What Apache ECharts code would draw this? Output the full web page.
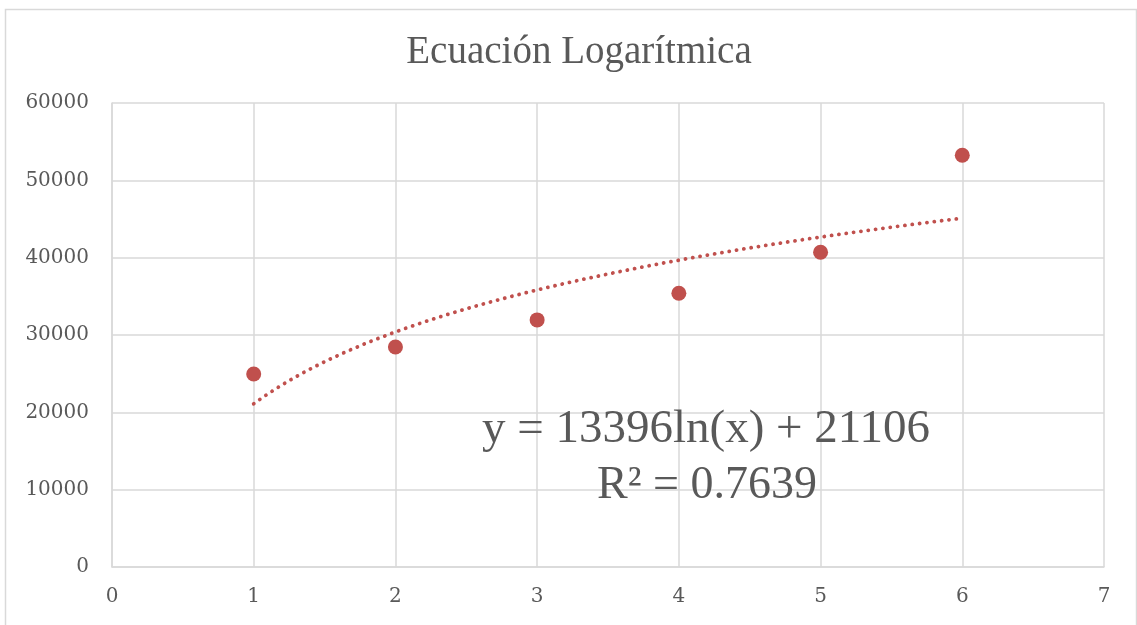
<!DOCTYPE html>
<html>
<head>
<meta charset="utf-8">
<script src="https://cdn.jsdelivr.net/npm/echarts@6/dist/echarts.min.js"></script>
<style>
  html, body { margin: 0; padding: 0; background: #ffffff; }
  #chart { width: 1137px; height: 625px; }
</style>
</head>
<body>
<div id="chart"></div>
<script>
// Observed values
const xValues = [1, 2, 3, 4, 5, 6];
const yValues = [24950, 28450, 31950, 35400, 40700, 53250];

// Logarithmic trendline coefficients: y = a ln(x) + b
const trendA = 13396;
const trendB = 21106;
const rSquared = '0.7639';

const titleText = 'Ecuación Logarítmica';
const equationText = 'y = 13396ln(x) + 21106';
const rSquaredText = 'R² = ' + rSquared;

// Sample the fitted curve across the observed x range
const trendPoints = [];
for (let i = 0; i <= 100; i++) {
  const x = xValues[0] + (xValues[xValues.length - 1] - xValues[0]) * i / 100;
  trendPoints.push([x, trendA * Math.log(x) + trendB]);
}

const tickFont = 'DejaVu Serif';
const textFont = 'Liberation Serif';
const chart = echarts.init(document.getElementById('chart'));

chart.setOption({
  backgroundColor: '#ffffff',
  animation: false,
  title: {
    text: titleText,
    left: 574,
    textAlign: 'center',
    top: 28,
    textStyle: { fontFamily: textFont, fontSize: 39, fontWeight: 'normal', color: '#595959' }
  },
  grid: { left: 112, right: 33, top: 103, bottom: 58 },
  xAxis: {
    type: 'value',
    min: 0, max: 7, interval: 1,
    axisLine: { show: true, lineStyle: { color: '#d9d9d9', width: 1.5 } },
    axisTick: { show: false },
    splitLine: { show: true, lineStyle: { color: '#d9d9d9', width: 1.5 } },
    axisLabel: { fontFamily: tickFont, fontSize: 20, color: '#595959', margin: 20,
                 formatter: v => String(v) }
  },
  yAxis: {
    type: 'value',
    min: 0, max: 60000, interval: 10000,
    axisLine: { show: true, lineStyle: { color: '#d9d9d9', width: 1.5 } },
    axisTick: { show: false },
    splitLine: { show: true, lineStyle: { color: '#d9d9d9', width: 1.5 } },
    axisLabel: { fontFamily: tickFont, fontSize: 20, color: '#595959', margin: 23,
                 formatter: v => String(v) }
  },
  series: [
    {
      type: 'line',
      data: trendPoints,
      showSymbol: false,
      symbol: 'none',
      smooth: false,
      lineStyle: { color: '#c0504d', width: 3.8, type: [0.1, 7.3], cap: 'round' },
      z: 2
    },
    {
      type: 'scatter',
      data: xValues.map((x, i) => [x, yValues[i]]),
      symbol: 'circle',
      symbolSize: 15,
      itemStyle: { color: '#c0504d', opacity: 1 },
      z: 3
    }
  ],
  graphic: [
    {
      type: 'rect',
      left: 3, top: 7,
      shape: { width: 1131, height: 640 },
      style: { fill: 'none', stroke: '#d9d9d9', lineWidth: 1.5 },
      silent: true
    },
    {
      type: 'text',
      x: 706, y: 430,
      style: {
        text: equationText,
        fontFamily: textFont, fontSize: 47,
        fill: '#595959', align: 'center', verticalAlign: 'middle'
      },
      z: 10
    },
    {
      type: 'text',
      x: 707, y: 486,
      style: {
        text: rSquaredText,
        fontFamily: textFont, fontSize: 46,
        fill: '#595959', align: 'center', verticalAlign: 'middle'
      },
      z: 10
    }
  ]
});
</script>
</body>
</html>
